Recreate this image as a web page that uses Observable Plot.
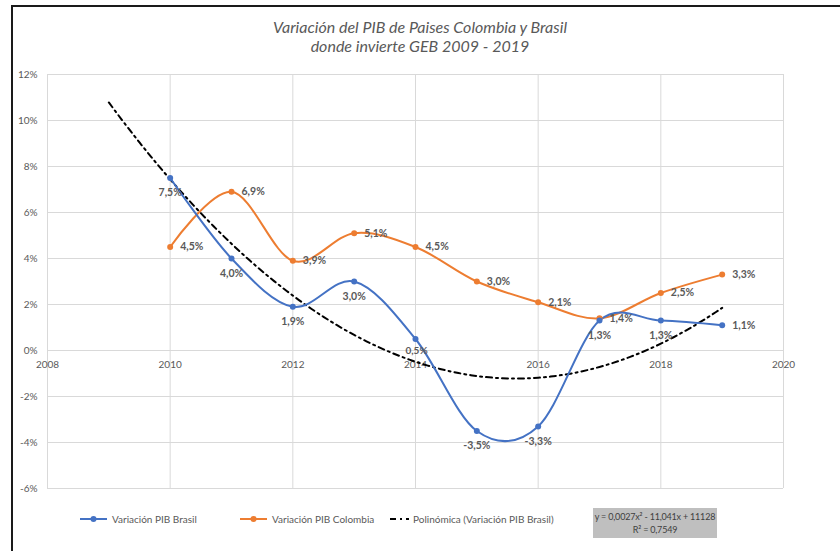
<!DOCTYPE html>
<html>
<head>
<meta charset="utf-8">
<script src="https://cdn.jsdelivr.net/npm/d3@7"></script>
<script src="https://cdn.jsdelivr.net/npm/@observablehq/plot@0.6"></script>
<style>
  html, body { margin: 0; padding: 0; background: #fff; }
  #wrap { position: relative; width: 840px; height: 551px; overflow: hidden; font-family: Lato, "Open Sans", sans-serif; }
  #frame { position: absolute; left: 11px; top: 5px; width: 840px; height: 560px; border-top: 2px solid #1a1a1a; border-left: 2px solid #1a1a1a; box-sizing: border-box; pointer-events: none; }
  #title { position: absolute; left: 0; top: 17px; width: 840px; text-align: center; font-style: italic; font-size: 16px; line-height: 19px; color: #595959; }
  #chart { position: absolute; left: 0; top: 0; }
  .leg { position: absolute; top: 512px; font-size: 10px; color: #595959; white-space: nowrap; line-height: 14px; }
  .leg svg { position: absolute; top: 0; }
  #eqbox { position: absolute; left: 593px; top: 508px; width: 124px; height: 30px; background: #bfbfbf; color: #404040; font-size: 9px; letter-spacing: -0.2px; line-height: 13px; text-align: center; padding-top: 2px; box-sizing: border-box; white-space: nowrap; }
</style>
</head>
<body>
<div id="wrap">
  <div id="chart"></div>
  <div id="title">Variación del PIB de Paises Colombia y Brasil<br>donde invierte GEB 2009 - 2019</div>
  <div id="frame"></div>
  <div class="leg" style="left:80px;"><svg width="28" height="14"><line x1="0" x2="27" y1="7" y2="7" stroke="#4472C4" stroke-width="2"/><circle cx="13.5" cy="7" r="3" fill="#4472C4"/></svg><span style="margin-left:32px">Variación PIB Brasil</span></div>
  <div class="leg" style="left:240px;"><svg width="28" height="14"><line x1="0" x2="27" y1="7" y2="7" stroke="#ED7D31" stroke-width="2"/><circle cx="13.5" cy="7" r="3" fill="#ED7D31"/></svg><span style="margin-left:32px">Variación PIB Colombia</span></div>
  <div class="leg" style="left:390px;"><svg width="20" height="14"><line x1="0" x2="19" y1="7" y2="7" stroke="#000" stroke-width="2" stroke-dasharray="6,4,2,4"/></svg><span style="margin-left:23px">Polinómica (Variación PIB Brasil)</span></div>
  <div id="eqbox">y = 0,0027x² - 11,041x + 11128<br>R² = 0,7549</div>
</div>
<script>
// ---- data ----
const years = [2010, 2011, 2012, 2013, 2014, 2015, 2016, 2017, 2018, 2019];
const brasilValues = [7.5, 4.0, 1.9, 3.0, 0.5, -3.5, -3.3, 1.3, 1.3, 1.1];
const colombiaValues = [4.5, 6.9, 3.9, 5.1, 4.5, 3.0, 2.1, 1.4, 2.5, 3.3];
const yTicks = [-6, -4, -2, 0, 2, 4, 6, 8, 10, 12];
const xTicks = [2008, 2010, 2012, 2014, 2016, 2018, 2020];
const trendRange = [2009, 2019];

const brasil = years.map((x, i) => ({x, y: brasilValues[i], i}));
const colombia = years.map((x, i) => ({x, y: colombiaValues[i], i}));

// quadratic least-squares trend of Brasil series (Excel "Polinómica" order 2)
function quadFit(xs, ys) {
  const xm = d3.mean(xs);
  const t = xs.map(x => x - xm);
  const n = xs.length;
  const S = k => d3.sum(t, v => v ** k);
  const Sy = k => d3.sum(t, (v, i) => v ** k * ys[i]);
  const A = [[n, S(1), S(2)], [S(1), S(2), S(3)], [S(2), S(3), S(4)]];
  const B = [Sy(0), Sy(1), Sy(2)];
  for (let c = 0; c < 3; c++) {
    for (let r = c + 1; r < 3; r++) {
      const f = A[r][c] / A[c][c];
      for (let k = c; k < 3; k++) A[r][k] -= f * A[c][k];
      B[r] -= f * B[c];
    }
  }
  const s = [0, 0, 0];
  for (let r = 2; r >= 0; r--) {
    let v = B[r];
    for (let k = r + 1; k < 3; k++) v -= A[r][k] * s[k];
    s[r] = v / A[r][r];
  }
  return x => s[0] + s[1] * (x - xm) + s[2] * (x - xm) ** 2;
}
const trendFn = quadFit(years, brasilValues);
const trend = d3.range(trendRange[0], trendRange[1] + 0.001, 0.1).map(x => ({x, y: trendFn(x)}));

const fmt = v => v.toFixed(1).replace(".", ",") + "%";
const lastIdx = years.length - 1;
const tightIdx = 4; // label close to the x-axis labels

const chart = Plot.plot({
  width: 840,
  height: 551,
  marginLeft: 47,
  marginRight: 57,
  marginTop: 74,
  marginBottom: 63,
  style: {fontFamily: "Lato, 'Open Sans', sans-serif", fontSize: "10px", color: "#595959", background: "transparent"},
  x: {domain: [2008, 2020], axis: null},
  y: {domain: [-6, 12], axis: null},
  marks: [
    Plot.gridY(yTicks, {stroke: "#d9d9d9", strokeOpacity: 1, strokeWidth: 1}),
    Plot.gridX(xTicks, {stroke: "#d9d9d9", strokeOpacity: 1, strokeWidth: 1}),
    Plot.axisY(yTicks, {tickSize: 0, tickPadding: 10, tickFormat: d => d + "%", label: null, fill: "#595959"}),
    Plot.text(xTicks, {x: d => d, y: 0, dy: 14, text: d => String(d), fill: "#595959", fontSize: 10}),
    Plot.line(trend, {x: "x", y: "y", stroke: "#000", strokeWidth: 2, strokeDasharray: "6,4,2,4"}),
    Plot.line(colombia, {x: "x", y: "y", stroke: "#ED7D31", strokeWidth: 2, curve: "cardinal"}),
    Plot.line(brasil, {x: "x", y: "y", stroke: "#4472C4", strokeWidth: 2, curve: "cardinal"}),
    Plot.dot(colombia, {x: "x", y: "y", r: 3, fill: "#ED7D31"}),
    Plot.dot(brasil, {x: "x", y: "y", r: 3, fill: "#4472C4"}),
    Plot.text(colombia, {x: "x", y: "y", text: d => fmt(d.y), dx: 10, textAnchor: "start", fill: "#595959", fontWeight: "bold", fontSize: 10.5}),
    Plot.text(brasil.filter(d => d.i !== lastIdx && d.i !== tightIdx), {x: "x", y: "y", text: d => fmt(d.y), dy: 15, textAnchor: "middle", fill: "#595959", fontWeight: "bold", fontSize: 10.5}),
    Plot.text(brasil.filter(d => d.i === tightIdx), {x: "x", y: "y", text: d => fmt(d.y), dy: 12, dx: 1, textAnchor: "middle", fill: "#595959", fontWeight: "bold", fontSize: 10}),
    Plot.text(brasil.filter(d => d.i === lastIdx), {x: "x", y: "y", text: d => fmt(d.y), dx: 10, textAnchor: "start", fill: "#595959", fontWeight: "bold", fontSize: 10.5})
  ]
});
document.getElementById("chart").appendChild(chart);
</script>
</body>
</html>
